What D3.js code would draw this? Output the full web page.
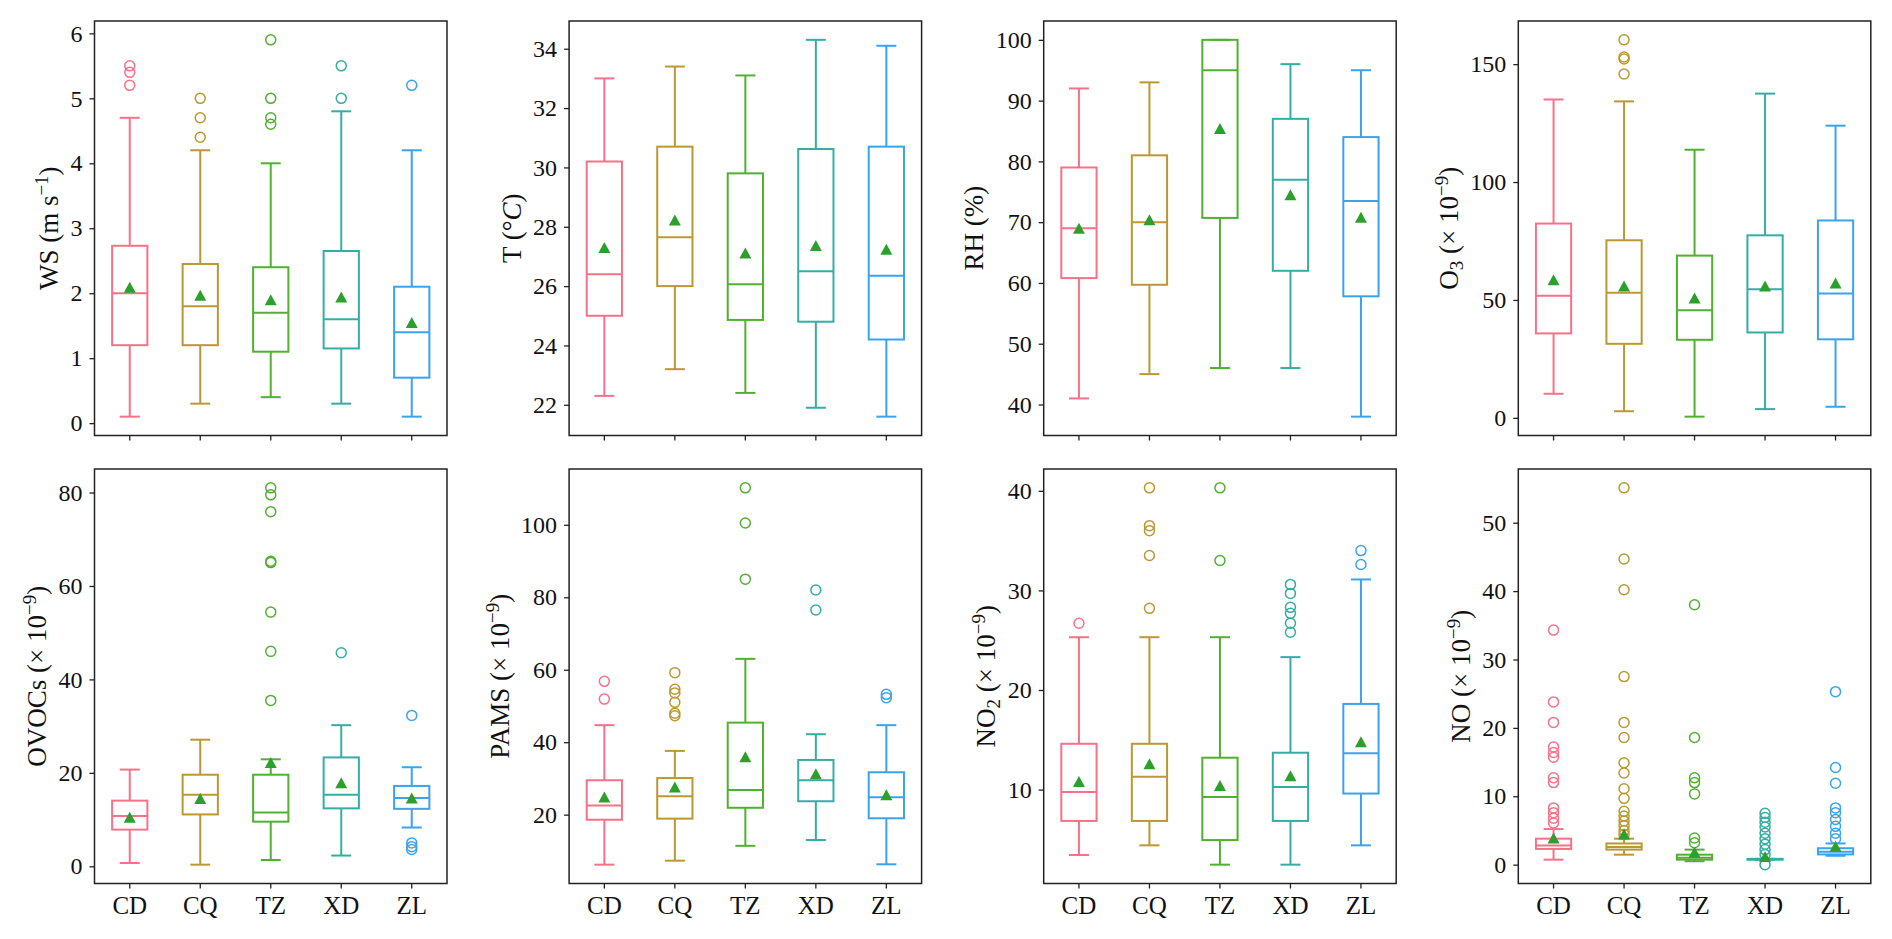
<!DOCTYPE html>
<html>
<head>
<meta charset="utf-8">
<script src="https://cdn.jsdelivr.net/npm/d3@7"></script>
<style>
  body { margin: 0; background: #fff; }
  svg { display: block; }
  text { font-family: "Liberation Serif", "Times New Roman", serif; fill: #111; }
</style>
</head>
<body>
<div id="chart"></div>
<script>
var sites = ["CD", "CQ", "TZ", "XD", "ZL"];
var siteColors = ["#f77189", "#bb9832", "#50b131", "#36ada4", "#3ba3ec"];
var meanColor = "#2ca02c";

// each row: [lower whisker, q1, median, q3, upper whisker, mean]
var wsBoxes = [
    [0.1, 1.2, 2.0, 2.73, 4.7, 2.09],
    [0.3, 1.2, 1.8, 2.45, 4.2, 1.97],
    [0.4, 1.1, 1.7, 2.4, 4.0, 1.9],
    [0.3, 1.15, 1.6, 2.65, 4.8, 1.94],
    [0.1, 0.7, 1.4, 2.1, 4.2, 1.55]
];
var wsFliers = [[5.5, 5.4, 5.2], [5.0, 4.7, 4.4], [5.9, 5.0, 4.7, 4.6], [5.5, 5.0], [5.2]];
var wsTicks = [0, 1, 2, 3, 4, 5, 6];

var tBoxes = [
    [22.3, 25.0, 26.4, 30.2, 33.0, 27.3],
    [23.2, 26.0, 27.65, 30.7, 33.4, 28.23],
    [22.4, 24.86, 26.06, 29.8, 33.1, 27.12],
    [21.9, 24.8, 26.5, 30.62, 34.3, 27.37],
    [21.6, 24.2, 26.35, 30.7, 34.1, 27.24]
];
var tFliers = [[], [], [], [], []];
var tTicks = [22, 24, 26, 28, 30, 32, 34];

var rhBoxes = [
    [41, 60.8, 69, 79, 92, 69.0],
    [45, 59.7, 70, 81, 93, 70.4],
    [46, 70.7, 95, 100, 100, 85.4],
    [46, 62, 77, 87, 96, 74.5],
    [38, 57.8, 73.5, 84, 95, 70.8]
];
var rhFliers = [[], [], [], [], []];
var rhTicks = [40, 50, 60, 70, 80, 90, 100];

var o3Boxes = [
    [10.2, 35.8, 51.8, 82.4, 135, 58.6],
    [2.8, 31.4, 53.1, 75.3, 134.2, 55.9],
    [0.5, 33.1, 45.6, 68.8, 113.7, 50.8],
    [3.7, 36.2, 54.5, 77.4, 137.5, 55.9],
    [4.7, 33.3, 52.7, 83.7, 123.9, 57.2]
];
var o3Fliers = [[], [160.3, 153, 152.2, 145.8], [], [], []];
var o3Ticks = [0, 50, 100, 150];

var ovocBoxes = [
    [0.7, 7.85, 10.76, 14.05, 20.7, 10.5],
    [0.35, 11.1, 15.3, 19.6, 27.1, 14.5],
    [1.35, 9.55, 11.5, 19.6, 22.9, 22.2],
    [2.3, 12.4, 15.3, 23.3, 30.2, 17.9],
    [8.3, 12.3, 14.6, 17.2, 21.2, 14.6]
];
var ovocFliers = [[], [], [81.0, 79.5, 75.9, 65.3, 65.0, 54.4, 46.0, 35.5], [45.7], [32.3, 5.0, 4.2, 3.6]];
var ovocTicks = [0, 20, 40, 60, 80];

var pamsBoxes = [
    [6.2, 18.6, 22.5, 29.5, 44.7, 24.9],
    [7.3, 18.9, 25.1, 30.1, 37.6, 27.6],
    [11.4, 21.9, 26.8, 45.4, 63, 36.0],
    [13.0, 23.7, 29.5, 35.1, 42.2, 31.3],
    [6.3, 19.0, 24.8, 31.7, 44.7, 25.5]
];
var pamsFliers = [[56.8, 51.9], [59.2, 54.6, 53.6, 51.0, 48.0, 47.3], [110.2, 100.5, 85.0], [82.0, 76.5], [53.2, 52.3]];
var pamsTicks = [20, 40, 60, 80, 100];

var no2Boxes = [
    [3.43, 6.85, 9.76, 14.6, 25.3, 10.8],
    [4.4, 6.85, 11.3, 14.6, 25.3, 12.6],
    [2.46, 4.93, 9.26, 13.2, 25.3, 10.4],
    [2.46, 6.85, 10.26, 13.7, 23.3, 11.4],
    [4.4, 9.6, 13.65, 18.6, 31.1, 14.8]
];
var no2Fliers = [[26.7], [40.3, 36.5, 36.0, 33.5, 28.2], [40.3, 33.0], [30.6, 29.7, 28.3, 27.7, 26.7, 25.8], [34.0, 32.6]];
var no2Ticks = [10, 20, 30, 40];

var noBoxes = [
    [0.73, 2.3, 2.8, 3.8, 5.2, 3.9],
    [1.46, 2.2, 2.6, 3.1, 3.8, 4.5],
    [0.5, 0.73, 1.0, 1.46, 2.2, 1.8],
    [0.73, 0.73, 0.78, 0.85, 0.85, 1.2],
    [1.3, 1.5, 1.9, 2.4, 3.1, 2.7]
];
var noFliers = [
    [34.3, 23.8, 20.8, 17.2, 16.4, 15.7, 12.7, 12.0, 8.3, 7.6, 6.8, 6.1],
    [55.1, 44.7, 40.2, 27.5, 20.8, 18.6, 14.9, 13.4, 11.1, 9.7, 7.8, 7.1, 6.4, 5.7, 5.0, 4.4],
    [38.0, 18.6, 12.7, 12.0, 10.35, 3.9, 3.2],
    [7.5, 6.9, 6.2, 5.5, 4.6, 3.8, 3.0, 2.2, 1.5, 0.0],
    [25.3, 14.2, 11.9, 8.3, 7.6, 6.6, 5.6, 4.6, 3.8]
];
var noTicks = [0, 10, 20, 30, 40, 50];

// y-axis labels: [text, style] pieces
var ppb = [[" (× 10", ""], ["−9", "sup"], [")", ""]];
var panels = [
    { boxes: wsBoxes, fliers: wsFliers, ticks: wsTicks, label: [["WS (m s", ""], ["−1", "sup"], [")", ""]] },
    { boxes: tBoxes, fliers: tFliers, ticks: tTicks, label: [["T (°", ""], ["C", "it"], [")", ""]] },
    { boxes: rhBoxes, fliers: rhFliers, ticks: rhTicks, label: [["RH (%)", ""]] },
    { boxes: o3Boxes, fliers: o3Fliers, ticks: o3Ticks, label: [["O", ""], ["3", "sub"]].concat(ppb) },
    { boxes: ovocBoxes, fliers: ovocFliers, ticks: ovocTicks, label: [["OVOCs", ""]].concat(ppb) },
    { boxes: pamsBoxes, fliers: pamsFliers, ticks: pamsTicks, label: [["PAMS", ""]].concat(ppb) },
    { boxes: no2Boxes, fliers: no2Fliers, ticks: no2Ticks, label: [["NO", ""], ["2", "sub"]].concat(ppb) },
    { boxes: noBoxes, fliers: noFliers, ticks: noTicks, label: [["NO", ""]].concat(ppb) }
];

var svgWidth = 1892;
var svgHeight = 939;

var plotLeft = 94.5;
var plotWidth = 352.5;
var colStep = 474.6;
var rowTops = [21, 469];
var plotHeight = 414.5;

var svg = d3.select("#chart")
    .append("svg")
    .attr("width", svgWidth)
    .attr("height", svgHeight);

var tickFont = 24;
var xTickFont = 25;
var labelFont = 27;

panels.forEach(function (p, i) {
    var row = Math.floor(i / 4);
    var col = i % 4;
    var g = svg.append("g")
        .attr("transform", `translate(${plotLeft + col * colStep}, ${rowTops[row]})`);

    var x = d3.scaleBand()
        .domain(sites)
        .range([0, plotWidth])
        .padding(0);

    // matplotlib-like 5% margins around everything drawn
    var allVals = [];
    p.boxes.forEach(b => allVals.push(...b));
    p.fliers.forEach(f => allVals.push(...f));
    var ext = d3.extent(allVals);
    var pad = (ext[1] - ext[0]) * 0.05;
    var y = d3.scaleLinear()
        .domain([ext[0] - pad, ext[1] + pad])
        .range([plotHeight, 0]);

    // y axis
    var yAxis = g.append("g")
        .call(d3.axisLeft(y).tickValues(p.ticks).tickSize(5).tickPadding(7).tickFormat(d3.format("d")));
    yAxis.select(".domain").remove();
    yAxis.selectAll("line").attr("stroke", "#222").attr("stroke-width", 1.3);
    yAxis.selectAll("text")
        .style("font-size", tickFont + "px")
        .style("font-family", "'Liberation Serif', serif")
        .attr("fill", "#111");

    // x axis
    var xAxis = g.append("g")
        .attr("transform", `translate(0, ${plotHeight})`)
        .call(d3.axisBottom(x).tickSize(5).tickPadding(8));
    xAxis.select(".domain").remove();
    xAxis.selectAll("line").attr("stroke", "#222").attr("stroke-width", 1.3);
    xAxis.selectAll("text")
        .style("font-size", xTickFont + "px")
        .style("font-family", "'Liberation Serif', serif")
        .attr("fill", "#111");
    if (row === 0) xAxis.selectAll("text").remove();

    var bw = x.bandwidth() * 0.5;
    var capW = 20;

    var boxG = g.append("g")
        .selectAll("g")
        .data(p.boxes)
        .enter()
        .append("g")
        .attr("stroke", (d, j) => siteColors[j])
        .attr("stroke-width", 2)
        .attr("fill", "none");

    var cx = (d, j) => x(sites[j]) + x.bandwidth() / 2;

    // whiskers
    boxG.append("line")
        .attr("x1", cx).attr("x2", cx)
        .attr("y1", d => y(d[0])).attr("y2", d => y(d[1]));
    boxG.append("line")
        .attr("x1", cx).attr("x2", cx)
        .attr("y1", d => y(d[3])).attr("y2", d => y(d[4]));
    // caps
    boxG.append("line")
        .attr("x1", (d, j) => cx(d, j) - capW / 2).attr("x2", (d, j) => cx(d, j) + capW / 2)
        .attr("y1", d => y(d[0])).attr("y2", d => y(d[0]));
    boxG.append("line")
        .attr("x1", (d, j) => cx(d, j) - capW / 2).attr("x2", (d, j) => cx(d, j) + capW / 2)
        .attr("y1", d => y(d[4])).attr("y2", d => y(d[4]));
    // box
    boxG.append("rect")
        .attr("x", (d, j) => cx(d, j) - bw / 2)
        .attr("width", bw)
        .attr("y", d => y(d[3]))
        .attr("height", d => Math.max(0.1, y(d[1]) - y(d[3])));
    // median
    boxG.append("line")
        .attr("x1", (d, j) => cx(d, j) - bw / 2).attr("x2", (d, j) => cx(d, j) + bw / 2)
        .attr("y1", d => y(d[2])).attr("y2", d => y(d[2]));

    // outliers
    p.fliers.forEach(function (f, j) {
        g.append("g")
            .selectAll("circle")
            .data(f)
            .enter()
            .append("circle")
            .attr("cx", x(sites[j]) + x.bandwidth() / 2)
            .attr("cy", d => y(d))
            .attr("r", 5)
            .attr("fill", "none")
            .attr("stroke", siteColors[j])
            .attr("stroke-width", 1.5);
    });

    // means
    var tw = 12, th = 11;
    g.append("g")
        .selectAll("path")
        .data(p.boxes)
        .enter()
        .append("path")
        .attr("d", `M0,${-th / 2}L${tw / 2},${th / 2}L${-tw / 2},${th / 2}Z`)
        .attr("transform", (d, j) => `translate(${cx(d, j)}, ${y(d[5])})`)
        .attr("fill", meanColor);

    // frame
    g.append("rect")
        .attr("width", plotWidth)
        .attr("height", plotHeight)
        .attr("fill", "none")
        .attr("stroke", "#222")
        .attr("stroke-width", 1.5);

    // y label, placed left of the tick labels
    var tickBox = yAxis.node().getBBox();
    var labelX = tickBox.x - 22;
    var label = g.append("text")
        .attr("transform", "rotate(-90)")
        .attr("x", -plotHeight / 2)
        .attr("y", labelX)
        .attr("dy", "0.35em")
        .attr("text-anchor", "middle")
        .style("font-size", labelFont + "px");
    var shift = 0;
    p.label.forEach(function (part) {
        var t = label.append("tspan").text(part[0]);
        var target = 0;
        if (part[1] === "sup") { t.style("font-size", (labelFont * 0.7) + "px"); target = -10; }
        else if (part[1] === "sub") { t.style("font-size", (labelFont * 0.7) + "px"); target = 5; }
        else if (part[1] === "it") { t.style("font-style", "italic"); }
        if (target !== shift) { t.attr("dy", target - shift); shift = target; }
    });
});
</script>
</body>
</html>
